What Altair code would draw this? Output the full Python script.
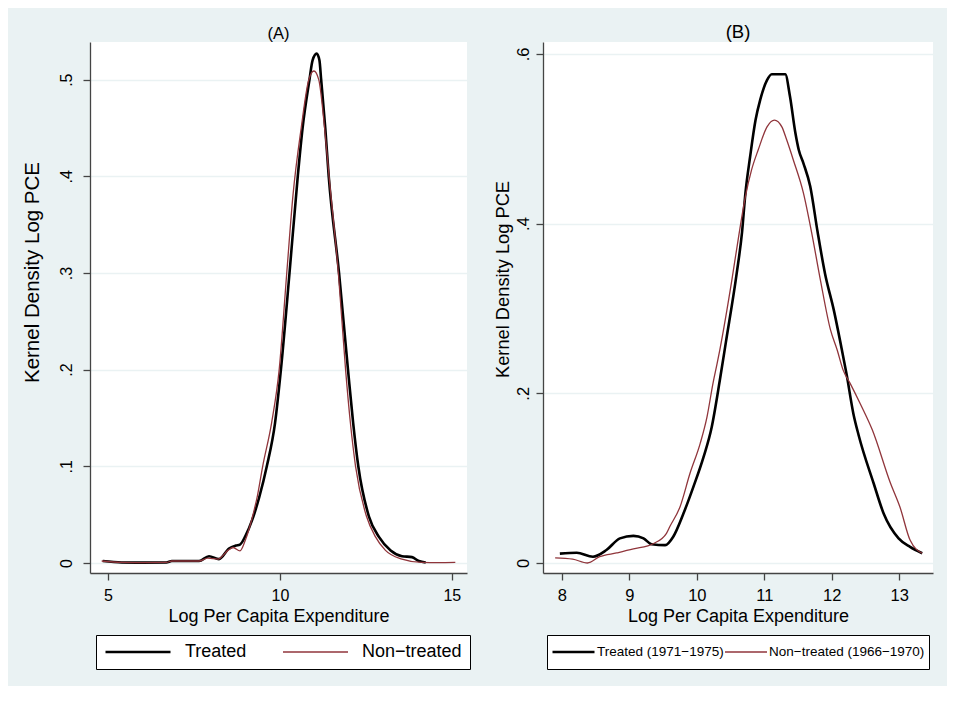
import altair as alt
import pandas as pd

FONT = "Liberation Sans"
BG = "#eaf2f3"
BLACK = "#000000"
RED = "#90353b"

# ---- Panel A data ----
a_labels = ["Treated", "Non\u2212treated"]
a_treated_x = [4.85, 5.4, 6.0, 6.7, 6.86, 7.3, 7.65, 7.94, 8.23, 8.52, 8.72, 8.84, 9.0, 9.19, 9.4,
               9.62, 9.86, 10.03, 10.28, 10.52, 10.66, 10.86, 10.95, 11.07, 11.15,
               11.2, 11.32, 11.42, 11.72, 11.98, 12.13, 12.28, 12.59, 12.88, 13.22,
               13.55, 13.84, 14.04, 14.24]
a_treated_y = [0.002, 0.0005, 0.0003, 0.0005, 0.002, 0.002, 0.002, 0.007, 0.004, 0.015, 0.018,
               0.019, 0.028, 0.044, 0.068, 0.1, 0.145, 0.2, 0.30, 0.40, 0.45, 0.50,
               0.52, 0.527, 0.52, 0.50, 0.45, 0.40, 0.30, 0.2, 0.145, 0.1, 0.048,
               0.027, 0.013, 0.007, 0.006, 0.002, 0.0005]
a_non_x = [4.82, 5.4, 6.0, 6.7, 6.86, 7.3, 7.65, 7.9, 8.2, 8.49, 8.64, 8.84, 9.0, 9.19, 9.35, 9.5,
           9.76, 9.98, 10.2, 10.38, 10.62, 10.84, 10.99, 11.13, 11.3, 11.43,
           11.7, 11.91, 12.05, 12.2, 12.52, 12.78, 13.07, 13.55, 14.13, 14.6, 15.1]
a_non_y = [0.002, 0.0005, 0.0003, 0.0005, 0.002, 0.002, 0.002, 0.005, 0.004, 0.013, 0.016, 0.0125,
           0.024, 0.046, 0.07, 0.1, 0.145, 0.2, 0.30, 0.38, 0.45, 0.50, 0.509, 0.50,
           0.45, 0.40, 0.30, 0.2, 0.145, 0.1, 0.048, 0.027, 0.013, 0.004, 0.0005,
           0.0003, 0.0005]
a_xticks = [5, 10, 15]
a_yticks = [0, 0.1, 0.2, 0.3, 0.4, 0.5]

# ---- Panel B data ----
b_labels = ["Treated (1971\u22121975)", "Non\u2212treated (1966\u22121970)"]
b_treated_x = [7.97, 8.22, 8.46, 8.66, 8.86, 9.06, 9.21, 9.33, 9.53, 9.65, 9.80, 9.95, 10.10,
               10.22, 10.34, 10.43, 10.59, 10.67, 10.72, 10.79, 10.87, 10.94, 11.04, 11.11, 11.31,
               11.38, 11.46, 11.51, 11.58, 11.68, 11.79, 11.90, 12.03, 12.15, 12.22, 12.32, 12.40,
               12.62, 12.77, 12.99, 13.16, 13.34]
b_treated_y = [0.011, 0.012, 0.0074, 0.0153, 0.029, 0.032, 0.029, 0.022, 0.021, 0.031, 0.058,
               0.090, 0.125, 0.160, 0.215, 0.26, 0.341, 0.39, 0.436, 0.479, 0.522, 0.546, 0.569,
               0.576, 0.576, 0.55, 0.507, 0.487, 0.471, 0.444, 0.39, 0.341, 0.298, 0.251, 0.222,
               0.176, 0.15, 0.094, 0.058, 0.029, 0.019, 0.0115]
b_non_x = [7.90, 8.16, 8.38, 8.56, 8.81, 9.06, 9.36, 9.55, 9.6, 9.75, 9.90, 10.05, 10.15, 10.24,
           10.30, 10.34, 10.52, 10.62, 10.72, 10.81, 10.91, 11.04, 11.15, 11.26, 11.33, 11.43,
           11.58, 11.70, 11.83, 11.98, 12.08, 12.17, 12.27, 12.42, 12.60, 12.87, 13.01, 13.16, 13.34]
b_non_y = [0.006, 0.0045, 0.0, 0.0074, 0.0118, 0.0165, 0.023, 0.035, 0.043, 0.066, 0.106, 0.141,
           0.172, 0.212, 0.235, 0.251, 0.334, 0.385, 0.432, 0.463, 0.487, 0.514, 0.522, 0.514,
           0.499, 0.475, 0.436, 0.39, 0.334, 0.275, 0.251, 0.227, 0.212, 0.188, 0.157, 0.094,
           0.066, 0.027, 0.0115]
b_xticks = [8, 9, 10, 11, 12, 13]
b_yticks = [0, 0.2, 0.4, 0.6]


def frame(labels, tx, ty, nx, ny):
    rows = []
    for i, (x, y) in enumerate(zip(tx, ty)):
        rows.append({"x": x, "y": y, "g": labels[0], "i": i})
    for i, (x, y) in enumerate(zip(nx, ny)):
        rows.append({"x": x, "y": y, "g": labels[1], "i": i})
    return pd.DataFrame(rows)


YLAB = "datum.value == 0 ? '0' : replace(format(datum.value, '.1f'), '0.', '.')"


def panel(df, labels, title, st, xdom, ydom, xticks, yticks, width, height, leg):
    legend = alt.Legend(
        orient="none", legendX=leg["x"], legendY=leg["y"], direction="horizontal",
        title=None, symbolType="stroke", symbolSize=leg["sym"] ** 2,
        labelFont=FONT, labelFontSize=leg["fs"], labelColor="#000000",
        labelOffset=leg["loff"], columnPadding=leg["cpad"], padding=leg["pad"],
        strokeColor="#000000", fillColor="#ffffff",
        labelLimit=400, clipHeight=leg["clip"],
    )
    return alt.Chart(df).mark_line(interpolate="monotone").encode(
        x=alt.X("x:Q", scale=alt.Scale(domain=xdom, nice=False, zero=False),
                axis=alt.Axis(title="Log Per Capita Expenditure", values=xticks, format="d",
                              grid=False, tickSize=7, labelPadding=7, titlePadding=4,
                              labelFontSize=st["tick"], titleFontSize=18)),
        y=alt.Y("y:Q", scale=alt.Scale(domain=ydom, nice=False, zero=False),
                axis=alt.Axis(title="Kernel Density Log PCE", values=yticks, labelExpr=YLAB,
                              grid=True, gridColor=BG, gridWidth=1.5, tickSize=7,
                              labelAngle=-90, labelAlign="center", labelBaseline="bottom",
                              labelPadding=st["lpad"], titlePadding=st["ytpad"],
                              labelFontSize=st["tick"],
                              titleFontSize=st["ytsize"], titleY=st["yty"])),
        color=alt.Color("g:N", scale=alt.Scale(domain=labels, range=[BLACK, RED]), legend=legend),
        strokeWidth=alt.StrokeWidth("g:N", scale=alt.Scale(domain=labels, range=[2.6, 1.3]),
                                    legend=legend),
        order="i:Q",
    ).properties(
        width=width, height=height,
        title=alt.TitleParams(title, fontSize=st["title"], font=FONT, fontWeight="normal",
                              color="#000000", offset=st["toff"], anchor="middle"),
    )


dfa = frame(a_labels, a_treated_x, a_treated_y, a_non_x, a_non_y)
dfb = frame(b_labels, b_treated_x, b_treated_y, b_non_x, b_non_y)

pa = panel(dfa, a_labels, "(A)",
           {"title": 16.5, "toff": 0, "tick": 16, "ytsize": 20.5, "ytpad": 16, "lpad": 9,
            "yty": 230},
           [4.48, 15.44], [-0.0104, 0.539], a_xticks, a_yticks, 377, 531,
           {"x": 6, "y": 593, "sym": 65, "fs": 18, "loff": 13, "cpad": 35, "pad": 8, "clip": 18})
pb = panel(dfb, b_labels, "(B)",
           {"title": 18.5, "toff": 1, "tick": 16.5, "ytsize": 18.3, "ytpad": 3, "lpad": 5,
            "yty": 237},
           [7.72, 13.5], [-0.0118, 0.614], b_xticks, b_yticks, 390, 531,
           {"x": 4, "y": 593, "sym": 42, "fs": 13.5, "loff": 1, "cpad": -24, "pad": 4, "clip": 26})

chart = alt.hconcat(pa, pb, spacing=22).resolve_scale(
    color="independent", strokeWidth="independent"
).properties(
    background=BG,
    padding={"left": 14, "top": 14, "right": 14, "bottom": 16},
).configure_view(
    fill="#ffffff", strokeWidth=0
).configure_axis(
    labelFont=FONT, titleFont=FONT, labelColor="#000000", titleColor="#000000",
    titleFontWeight="normal", domainColor="#444444", tickColor="#444444",
    domainWidth=1.3, tickWidth=1.3,
)

chart.save("out.html", embed_options={"renderer": "svg", "actions": False})
